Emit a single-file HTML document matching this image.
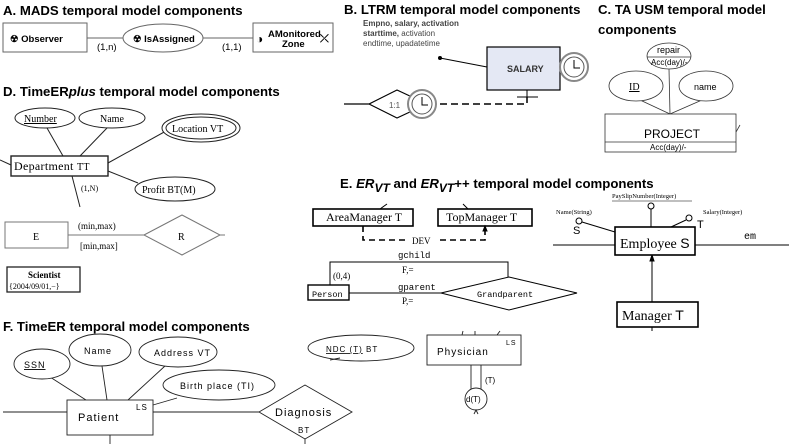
<!DOCTYPE html>
<html><head><meta charset="utf-8"><style>
html,body{margin:0;padding:0;background:#fff;width:789px;height:444px;overflow:hidden}
svg{display:block}
.t{font-family:"Liberation Sans",sans-serif;font-weight:bold;font-size:13.2px;fill:#000}
.s{font-family:"Liberation Sans",sans-serif;font-size:10px}
.sf{font-family:"Liberation Serif",serif}
.m{font-family:"Liberation Mono",monospace}
</style></head><body>
<svg width="789" height="444" viewBox="0 0 789 444" xmlns="http://www.w3.org/2000/svg" fill="none" stroke="#000">
<!-- A -->
<text class="t" x="3" y="15" stroke="none">A. MADS temporal model components</text>
<g stroke="#666" stroke-width="1">
<rect x="3" y="23" width="84" height="29" fill="#fff"/>
<ellipse cx="163" cy="38" rx="40" ry="14" fill="#fff"/>
<rect x="253" y="23" width="80" height="29" fill="#fff"/>
<line x1="87" y1="38" x2="123" y2="38"/><line x1="203" y1="38" x2="253" y2="38"/>
</g>
<g stroke="none" fill="#000" font-family="Liberation Sans" font-size="9.5" font-weight="bold">
<text x="10" y="42">☢  Observer</text>
<text x="133" y="42">☢ IsAssigned</text>
<text x="256" y="43" font-size="12">◑</text>
<text x="268" y="37">AMonitored</text><text x="282" y="47">Zone</text>
<text x="320" y="42" font-size="11">⤫</text>
<text x="97" y="50" font-weight="normal">(1,n)</text>
<text x="222" y="50" font-weight="normal">(1,1)</text>
</g>
<!-- B -->
<text class="t" x="344" y="14" stroke="none">B. LTRM temporal model components</text>
<g stroke="none" font-family="Liberation Sans" font-size="8" fill="#444">
<text x="363" y="26" font-weight="bold">Empno, salary, activation</text>
<text x="363" y="36"><tspan font-weight="bold">starttime,</tspan> activation</text>
<text x="363" y="46">endtime, upadatetime</text>
</g>
<circle cx="440" cy="58" r="2" fill="#000" stroke="none"/>
<line x1="440" y1="58" x2="487" y2="67"/>
<rect x="487" y="47" width="73" height="43" fill="#e4e8f4" stroke-width="1.2"/>
<text x="507" y="72" stroke="none" fill="#333" font-family="Liberation Sans" font-size="9" font-weight="bold">SALARY</text>
<circle cx="574" cy="67" r="14" fill="#fff" stroke="#888" stroke-width="2"/>
<circle cx="574" cy="67" r="10" fill="#fff" stroke="#555"/>
<path d="M574 60V68H580"/>
<path d="M527 90V97M517 97H538"/>
<path d="M440 104H527V97" stroke-dasharray="7,4" stroke-width="1.5"/>
<path d="M344 104H369L397 90L412 97M369 104L397 118L412 111" stroke-width="1.2"/>
<text x="389" y="108" stroke="none" fill="#555" font-family="Liberation Sans" font-size="8">1:1</text>
<circle cx="422" cy="104" r="14" fill="#fff" stroke="#888" stroke-width="2"/>
<circle cx="422" cy="104" r="10" fill="#fff" stroke="#555"/>
<path d="M422 97V105H428"/>
<!-- C -->
<text class="t" x="598" y="14" stroke="none">C. TA USM temporal model</text>
<text class="t" x="598" y="34" stroke="none">components</text>
<g stroke="#333" stroke-width="0.8">
<line x1="669" y1="69" x2="670" y2="114"/><line x1="640" y1="100" x2="670" y2="114"/><line x1="702" y1="100" x2="670" y2="114"/>
<ellipse cx="669" cy="56" rx="22" ry="13" fill="#fff"/><line x1="647" y1="57" x2="691" y2="57"/>
<ellipse cx="636" cy="86" rx="27" ry="15" fill="#fff"/>
<ellipse cx="706" cy="86" rx="27" ry="15" fill="#fff"/>
<rect x="605" y="114" width="131" height="38" fill="#fff"/><line x1="605" y1="142" x2="736" y2="142"/>
<line x1="736" y1="132" x2="740" y2="125"/>
</g>
<g stroke="none" fill="#000" font-family="Liberation Sans">
<text x="657" y="53" font-size="9">repair</text><text x="651" y="65" font-size="8">Acc(day)/-</text>
<text x="629" y="90" font-size="10" class="sf" text-decoration="underline">ID</text>
<text x="694" y="90" font-size="9">name</text>
<text x="644" y="138" font-size="12">PROJECT</text>
<text x="650" y="150" font-size="8">Acc(day)/-</text>
</g>
<!-- D -->
<text class="t" x="3" y="96" stroke="none">D. TimeER<tspan font-style="italic">plus</tspan> temporal model components</text>
<g stroke="#222">
<line x1="47" y1="128" x2="63" y2="156"/><line x1="107" y1="128" x2="80" y2="156"/>
<line x1="108" y1="163" x2="166" y2="131"/><line x1="108" y1="171" x2="138" y2="183"/>
<line x1="72" y1="176" x2="80" y2="207"/><line x1="0" y1="160" x2="11" y2="165"/>
<ellipse cx="45" cy="118" rx="30" ry="10" fill="#fff"/>
<ellipse cx="112" cy="118" rx="33" ry="10" fill="#fff"/>
<ellipse cx="201" cy="128" rx="39" ry="14" fill="#fff"/><ellipse cx="201" cy="128" rx="35" ry="11"/>
<rect x="11" y="156" width="97" height="20" fill="#fff" stroke-width="1.4"/>
<ellipse cx="175" cy="189" rx="40" ry="12" fill="#fff"/>
<rect x="5" y="222" width="63" height="26" fill="#fff" stroke="#777"/>
<path d="M144 235L182 215L220 235L182 255Z" stroke="#777" fill="#fff"/>
<line x1="68" y1="235" x2="144" y2="235" stroke="#777"/><line x1="220" y1="235" x2="225" y2="235" stroke="#777"/>
<rect x="7" y="267" width="73" height="25" fill="#fff" stroke-width="1.3"/>
</g>
<g stroke="none" fill="#000" class="sf" font-family="Liberation Serif">
<text x="24" y="122" font-size="10" text-decoration="underline">Number</text>
<text x="100" y="122" font-size="10">Name</text>
<text x="172" y="132" font-size="10">Location  VT</text>
<text x="14" y="170" font-size="12" letter-spacing="0.3">Department  <tspan font-size="10">TT</tspan></text>
<text x="81" y="191" font-size="8">(1,N)</text>
<text x="142" y="193" font-size="10">Profit  BT(M)</text>
<text x="33" y="240" font-size="10">E</text>
<text x="178" y="240" font-size="10">R</text>
<text x="78" y="229" font-size="9">(min,max)</text>
<text x="80" y="249" font-size="9">[min,max]</text>
<text x="28" y="278" font-size="9" font-weight="bold">Scientist</text>
<text x="9" y="289" font-size="8">{2004/09/01,−}</text>
</g>
<!-- E -->
<text class="t" x="340" y="188" stroke="none">E. <tspan font-style="italic">ER</tspan><tspan font-style="italic" dy="4" font-size="12">VT</tspan><tspan dy="-4"> and </tspan><tspan font-style="italic">ER</tspan><tspan font-style="italic" dy="4" font-size="12">VT</tspan><tspan dy="-4">++ temporal model components</tspan></text>
<path d="M380 209L387 204M463 204L468 209"/>
<rect x="313" y="209" width="100" height="17" fill="#fff" stroke-width="1.6"/>
<rect x="438" y="209" width="94" height="17" fill="#fff" stroke-width="1.6"/>
<path d="M363 226V240H405M440 240H485V229" stroke-dasharray="6,4" stroke-width="1.6"/>
<path d="M485 226L483 231H487Z" fill="#000"/>
<path d="M330 285V262H508V277"/>
<line x1="349" y1="293" x2="441" y2="293"/>
<rect x="308" y="285" width="41" height="15" fill="#fff" stroke-width="1.4"/>
<path d="M441 293L509 277L577 293L509 310Z" fill="#fff"/>
<g stroke="none" fill="#000">
<text x="326" y="221" class="sf" font-size="12">AreaManager T</text>
<text x="446" y="221" class="sf" font-size="12">TopManager T</text>
<text x="412" y="244" class="sf" font-size="9">DEV</text>
<text x="398" y="258" class="m" font-size="9">gchild</text>
<text x="402" y="273" class="sf" font-size="9">F,=</text>
<text x="333" y="279" class="sf" font-size="9">(0,4)</text>
<text x="398" y="290" class="m" font-size="9">gparent</text>
<text x="402" y="304" class="sf" font-size="9">P,=</text>
<text x="312" y="297" class="m" font-size="8.5">Person</text>
<text x="477" y="297" class="m" font-size="8.5">Grandparent</text>
</g>
<line x1="553" y1="245" x2="789" y2="245"/>
<line x1="582" y1="222" x2="615" y2="232"/><line x1="651" y1="209" x2="651" y2="227"/><line x1="686" y1="220" x2="671" y2="227"/>
<circle cx="579" cy="221" r="3" fill="#fff"/><circle cx="651" cy="206" r="3" fill="#fff"/><circle cx="689" cy="218" r="3" fill="#fff"/>
<line x1="612" y1="201" x2="692" y2="201" stroke-width="0.6"/>
<line x1="652" y1="257" x2="652" y2="302"/><path d="M652 255L650 261H654Z" fill="#000"/>
<rect x="615" y="227" width="80" height="28" fill="#fff" stroke-width="1.6"/>
<rect x="617" y="302" width="81" height="25" fill="#fff" stroke-width="1.6"/>
<line x1="652" y1="327" x2="652" y2="331"/>
<g stroke="none" fill="#000" class="sf">
<text x="612" y="198" font-size="6.5">PaySlipNumber(Integer)</text>
<text x="556" y="214" font-size="6.5">Name(String)</text>
<text x="703" y="214" font-size="6.5">Salary(Integer)</text>
<text x="573" y="234" font-family="Liberation Sans" font-size="11">S</text>
<text x="697" y="228" font-family="Liberation Sans" font-size="11">T</text>
<text x="620" y="248" font-size="14">Employee <tspan font-family="Liberation Sans">S</tspan></text>
<text x="744" y="239" class="m" font-size="10">em</text>
<text x="622" y="320" font-size="14">Manager  <tspan font-family="Liberation Sans">T</tspan></text>
</g>
<!-- F -->
<text class="t" x="3" y="331" stroke="none">F. TimeER temporal model components</text>
<g stroke="#222" stroke-width="0.9">
<line x1="50" y1="377" x2="86" y2="400"/><line x1="102" y1="366" x2="107" y2="400"/><line x1="165" y1="366" x2="128" y2="400"/>
<line x1="153" y1="405" x2="177" y2="398"/>
<line x1="3" y1="412" x2="67" y2="412"/><line x1="153" y1="412" x2="259" y2="412"/>
<line x1="110" y1="435" x2="110" y2="444"/>
<ellipse cx="42" cy="364" rx="28" ry="15" fill="#fff"/>
<ellipse cx="100" cy="350" rx="31" ry="16" fill="#fff"/>
<ellipse cx="178" cy="352" rx="39" ry="15" fill="#fff"/>
<ellipse cx="219" cy="385" rx="56" ry="15" fill="#fff"/>
<rect x="67" y="400" width="86" height="35" fill="#fff"/>
<path d="M259 412L305 385L352 412L305 439Z" fill="#fff"/>
<line x1="305" y1="439" x2="305" y2="444"/>
<ellipse cx="361" cy="348" rx="53" ry="13" fill="#fff"/>
<path d="M330 360L340 358"/>
<path d="M462 335L463 331M475 335V331M497 335L500 331"/>
<rect x="427" y="335" width="94" height="30" fill="#fff"/>
<line x1="471" y1="365" x2="471" y2="390"/><line x1="481" y1="365" x2="481" y2="390"/>
<circle cx="476" cy="399" r="11" fill="#fff"/>
<path d="M474 414L476 410L478 414"/>
</g>
<g stroke="none" fill="#000" font-family="Liberation Sans" letter-spacing="1">
<text x="24" y="368" font-size="9" text-decoration="underline">SSN</text>
<text x="84" y="354" font-size="9">Name</text>
<text x="154" y="356" font-size="9">Address  VT</text>
<text x="180" y="389" font-size="9">Birth place  (TI)</text>
<text x="78" y="421" font-size="11">Patient</text>
<text x="136" y="410" font-size="8">LS</text>
<text x="275" y="416" font-size="11">Diagnosis</text>
<text x="298" y="433" font-size="8">BT</text>
<text x="326" y="352" font-size="8"><tspan text-decoration="underline">NDC  (T)</tspan>  BT</text>
<text x="437" y="355" font-size="10">Physician</text>
<text x="506" y="345" font-size="7">LS</text>
<text x="485" y="383" font-size="8" letter-spacing="0">(T)</text>
<text x="466" y="402" font-size="8" letter-spacing="0">d(T)</text>
</g>
</svg>
</body></html>
